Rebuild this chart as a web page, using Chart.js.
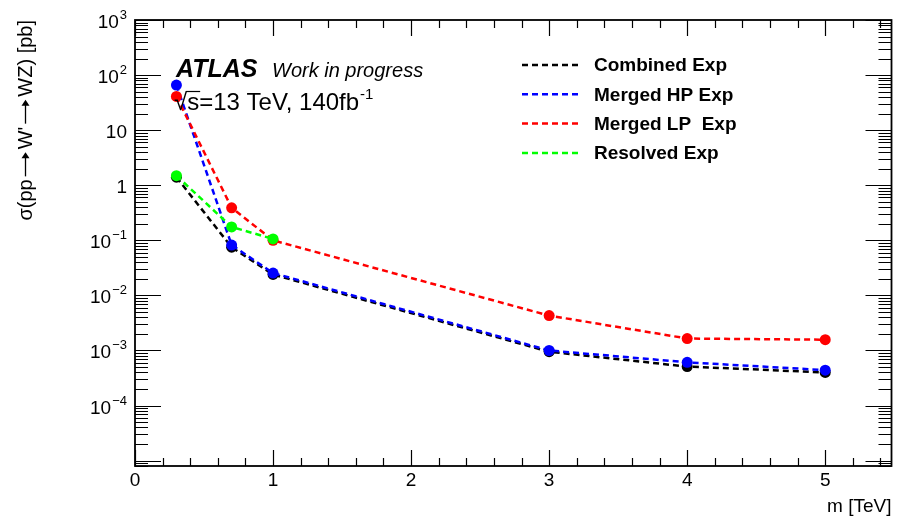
<!DOCTYPE html>
<html>
<head>
<meta charset="utf-8">
<script src="https://cdn.jsdelivr.net/npm/chart.js@4.4.1/dist/chart.umd.min.js"></script>
<style>
  html, body { margin: 0; padding: 0; background: #ffffff; }
  #limitChart { display: block; }
</style>
</head>
<body>
<canvas id="limitChart" width="897" height="519"></canvas>
<script>
// expected limits on sigma(pp -> W' -> WZ) in pb, per W' mass in TeV
const masses = [0.3, 0.7, 1, 3, 4, 5];
const combinedExp = [1.4, 0.075, 0.024, 9.5e-4, 5.1e-4, 4.0e-4];
const mergedHPExp = [66, 0.082, 0.0255, 1.0e-3, 6.1e-4, 4.4e-4];
const mergedLPExp = [41, 0.39, 0.1, 4.3e-3, 1.65e-3, 1.57e-3];
const resolvedMasses = [0.3, 0.7, 1];
const resolvedExp = [1.49, 0.175, 0.106];

const seriesLabels = ['Combined Exp', 'Merged HP Exp', 'Merged LP  Exp', 'Resolved Exp'];
const seriesColors = ['#000000', '#0000ff', '#ff0000', '#00ff00'];

const xTickValues = [0, 1, 2, 3, 4, 5];
const xTickLabels = ['0', '1', '2', '3', '4', '5'];
const yTickValues = [1e3, 1e2, 10, 1, 1e-1, 1e-2, 1e-3, 1e-4];
const yTickLabels = [['10', '3'], ['10', '2'], ['10', ''], ['1', ''],
    ['10', '\u22121'], ['10', '\u22122'], ['10', '\u22123'], ['10', '\u22124']];

// y title pieces; the arrows between them are drawn by hand, ROOT #rightarrow style
const yTitleParts = ['\u03c3(pp', 'W\'', 'WZ) [pb]'];

const FONT = '"Liberation Sans", Arial, sans-serif';

function toPoints(xs, ys) {
    return xs.map((x, i) => ({ x: x, y: ys[i] }));
}

function makeSeries(idx, xs, ys, order) {
    return {
        label: seriesLabels[idx],
        data: toPoints(xs, ys),
        borderColor: seriesColors[idx],
        backgroundColor: seriesColors[idx],
        pointBackgroundColor: seriesColors[idx],
        pointBorderColor: seriesColors[idx],
        pointRadius: 5.5,
        pointBorderWidth: 0,
        borderWidth: 2.5,
        borderDash: [6, 4],
        tension: 0,
        fill: false,
        order: order
    };
}

function drawArrow(ctx, x, y, len) {
    ctx.beginPath();
    ctx.moveTo(x, y);
    ctx.lineTo(x + len - 2, y);
    ctx.stroke();
    ctx.beginPath();
    ctx.moveTo(x + len, y);
    ctx.lineTo(x + len - 6, y - 4);
    ctx.lineTo(x + len - 6, y + 4);
    ctx.closePath();
    ctx.fill();
}

// frame, inward ticks and all text, ROOT style
const rootFrame = {
    id: 'rootFrame',
    afterDraw(chart) {
        const ctx = chart.ctx;
        const a = chart.chartArea;
        const xs = chart.scales.x;
        const ys = chart.scales.y;
        ctx.save();

        ctx.strokeStyle = '#000';
        ctx.lineWidth = 1.2;
        ctx.beginPath();
        for (let i = 0; i * 0.2 <= xs.max + 1e-9; i++) {
            const px = Math.round(xs.getPixelForValue(i * 0.2)) + 0.5;
            const len = i % 5 === 0 ? 16 : 8;
            ctx.moveTo(px, a.bottom); ctx.lineTo(px, a.bottom - len);
            ctx.moveTo(px, a.top); ctx.lineTo(px, a.top + len);
        }
        for (let e = -6; e <= 3; e++) {
            for (let k = 1; k <= 9; k++) {
                const v = k * Math.pow(10, e);
                if (v < ys.min || v > ys.max) continue;
                const py = Math.round(ys.getPixelForValue(v)) + 0.5;
                const len = k === 1 ? 26 : 13;
                ctx.moveTo(a.left, py); ctx.lineTo(a.left + len, py);
                ctx.moveTo(a.right, py); ctx.lineTo(a.right - len, py);
            }
        }
        ctx.stroke();

        ctx.lineWidth = 1.8;
        ctx.strokeRect(a.left, a.top, a.right - a.left, a.bottom - a.top);

        ctx.fillStyle = '#000';
        ctx.textBaseline = 'alphabetic';

        // x tick labels
        ctx.font = '19px ' + FONT;
        ctx.textAlign = 'center';
        xTickValues.forEach((v, i) => {
            ctx.fillText(xTickLabels[i], xs.getPixelForValue(v), a.bottom + 20);
        });

        // y tick labels with exponents
        ctx.textAlign = 'left';
        yTickValues.forEach((v, i) => {
            const py = ys.getPixelForValue(v);
            const base = yTickLabels[i][0];
            const exp = yTickLabels[i][1];
            ctx.font = '19px ' + FONT;
            const wb = ctx.measureText(base).width;
            ctx.font = '13px ' + FONT;
            const we = exp ? ctx.measureText(exp).width + 1 : 0;
            const x0 = 127 - we - wb;
            ctx.font = '19px ' + FONT;
            ctx.fillText(base, x0, py + 8);
            if (exp) {
                ctx.font = '13px ' + FONT;
                ctx.fillText(exp, x0 + wb + 1, py - 1);
            }
        });

        // axis titles
        ctx.font = '19px ' + FONT;
        ctx.textAlign = 'right';
        ctx.fillText('m [TeV]', a.right, 512);

        ctx.save();
        ctx.translate(32, a.top);
        ctx.rotate(-Math.PI / 2);
        ctx.textAlign = 'left';
        ctx.font = '20px ' + FONT;
        const arrowSlot = 30;
        let total = arrowSlot * (yTitleParts.length - 1);
        yTitleParts.forEach(p => { total += ctx.measureText(p).width; });
        let tx = -total;
        ctx.lineWidth = 1.3;
        yTitleParts.forEach((p, i) => {
            ctx.fillText(p, tx, 0);
            tx += ctx.measureText(p).width;
            if (i < yTitleParts.length - 1) {
                drawArrow(ctx, tx + 3, -6.5, arrowSlot - 6);
                tx += arrowSlot;
            }
        });
        ctx.restore();

        // ATLAS label
        ctx.textAlign = 'left';
        ctx.font = 'italic bold 25px ' + FONT;
        ctx.fillText('ATLAS', 176, 77);
        ctx.font = 'italic 20px ' + FONT;
        ctx.fillText('Work in progress', 272, 77);

        const ex = 174;
        ctx.font = '24px ' + FONT;
        const energy = '\u221as=13 TeV, 140fb';
        ctx.fillText(energy, ex, 110);
        const we = ctx.measureText(energy).width;
        const wr = ctx.measureText('\u221a').width;
        const ws = ctx.measureText('s').width;
        ctx.lineWidth = 1.2;
        ctx.beginPath();
        ctx.moveTo(ex + wr - 1, 91.5);
        ctx.lineTo(ex + wr + ws + 1, 91.5);
        ctx.stroke();
        ctx.font = '15px ' + FONT;
        ctx.fillText('-1', ex + we + 1, 99);

        // legend
        ctx.font = 'bold 19px ' + FONT;
        ctx.textBaseline = 'middle';
        chart.data.datasets.forEach((ds, i) => {
            const ly = 65 + i * 29.3;
            ctx.strokeStyle = ds.borderColor;
            ctx.lineWidth = 2.5;
            ctx.setLineDash([6, 4]);
            ctx.beginPath();
            ctx.moveTo(522, ly);
            ctx.lineTo(580, ly);
            ctx.stroke();
            ctx.setLineDash([]);
            ctx.fillStyle = '#000';
            ctx.fillText(ds.label, 594, ly + 1);
        });

        ctx.restore();
    }
};

const ctx = document.getElementById('limitChart').getContext('2d');
const limitChart = new Chart(ctx, {
    type: 'line',
    data: {
        datasets: [
            makeSeries(0, masses, combinedExp, 3),
            makeSeries(1, masses, mergedHPExp, 2),
            makeSeries(2, masses, mergedLPExp, 1),
            makeSeries(3, resolvedMasses, resolvedExp, 0)
        ]
    },
    options: {
        responsive: false,
        animation: false,
        layout: { padding: { left: 135, right: 4, top: 20, bottom: 53 } },
        plugins: {
            legend: { display: false },
            tooltip: { enabled: false }
        },
        scales: {
            x: { type: 'linear', min: 0, max: 5.48, display: false },
            y: { type: 'logarithmic', min: 8e-6, max: 1000, display: false }
        }
    },
    plugins: [rootFrame]
});
</script>
</body>
</html>
